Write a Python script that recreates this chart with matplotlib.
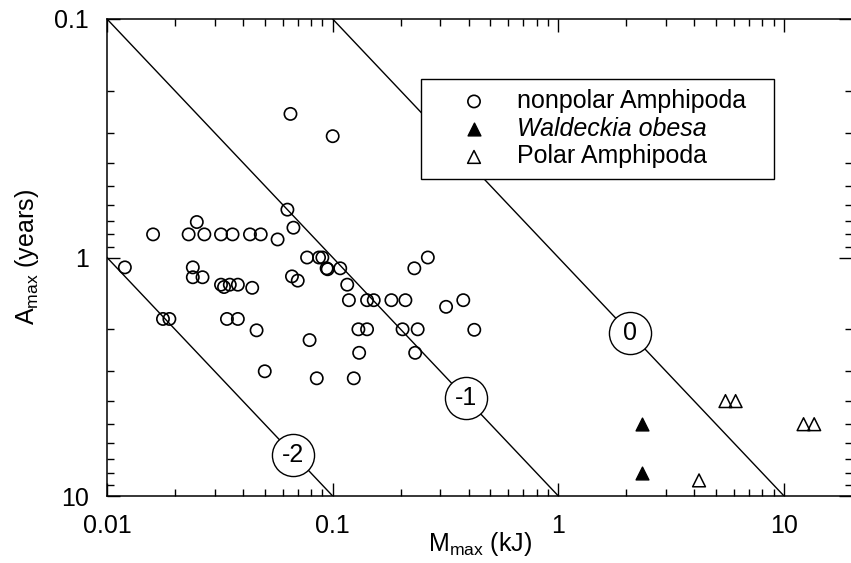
import numpy as np
import matplotlib
matplotlib.use("Agg")
import matplotlib.pyplot as plt
from matplotlib import ticker

# ---------------------------------------------
# DATA
# ---------------------------------------------

# nonpolar Amphipoda: max body energy (kJ) vs max age (years)
nonpolar_mass = [0.063, 0.025, 0.016, 0.023, 0.027, 0.032, 0.036, 0.043, 0.048,
                 0.057, 0.067, 0.012, 0.024, 0.024, 0.0265, 0.032, 0.033, 0.035,
                 0.038, 0.044, 0.066, 0.070, 0.0177, 0.0189, 0.034, 0.038, 0.046,
                 0.050, 0.065, 0.100, 0.077, 0.087, 0.090, 0.094, 0.095, 0.108,
                 0.116, 0.118, 0.142, 0.152, 0.182, 0.210, 0.230, 0.264, 0.318,
                 0.379, 0.424, 0.130, 0.142, 0.204, 0.238, 0.079, 0.131, 0.232,
                 0.085, 0.124]
nonpolar_age = [0.63, 0.71, 0.80, 0.80, 0.80, 0.80, 0.80, 0.80, 0.80,
                0.84, 0.75, 1.10, 1.10, 1.21, 1.21, 1.30, 1.33, 1.30,
                1.30, 1.34, 1.20, 1.25, 1.81, 1.81, 1.81, 1.81, 2.02,
                3.00, 0.25, 0.31, 1.00, 1.00, 1.00, 1.11, 1.12, 1.11,
                1.30, 1.51, 1.51, 1.51, 1.51, 1.51, 1.11, 1.00, 1.61,
                1.51, 2.01, 2.00, 2.00, 2.00, 2.00, 2.22, 2.51, 2.51,
                3.21, 3.21]

# Waldeckia obesa
waldeckia_mass = [2.34, 2.34]
waldeckia_age = [5.0, 8.0]

# Polar Amphipoda
polar_mass = [5.5, 6.1, 12.2, 13.6, 4.2]
polar_age = [4.0, 4.0, 5.0, 5.0, 8.6]

# reference lines, A = M * 10**(-k)
line_labels = [-2, -1, 0]

x_ticks = [0.01, 0.1, 1, 10]
x_tick_labels = ["0.01", "0.1", "1", "10"]
y_ticks = [0.1, 1, 10]
y_tick_labels = ["0.1", "1", "10"]

# ---------------------------------------------
# PLOT
# ---------------------------------------------

plt.rcParams["font.family"] = "Liberation Sans"
plt.rcParams["mathtext.fontset"] = "custom"
plt.rcParams["mathtext.rm"] = "Liberation Sans"
plt.rcParams["mathtext.default"] = "regular"

FS = 18

fig = plt.figure(figsize=(8.51, 5.63), dpi=100)
ax = fig.add_axes([107 / 851, 67 / 563, 745 / 851, 477 / 563])
ax.set_xscale("log")
ax.set_yscale("log")
ax.set_xlim(0.01, 20)
ax.set_ylim(10, 0.1)  # inverted: 0.1 at the top

# diagonal reference lines
m_line = np.array([0.001, 100.0])
for k in line_labels:
    ax.plot(m_line, m_line * 10.0 ** (-k), color="black", lw=1.0, zorder=2)

# circled labels sitting on the lines
label_mass = {-2: 0.067, -1: 0.39, 0: 2.08}
for k in line_labels:
    m = label_mass[k]
    a = m * 10.0 ** (-k)
    ax.scatter([m], [a], s=920, facecolor="white", edgecolor="black",
               linewidths=1.0, zorder=4)
    ax.text(m, a, str(k), ha="center", va="center", fontsize=FS, zorder=5)

# data points
ax.scatter(nonpolar_mass, nonpolar_age, s=78, facecolors="none",
           edgecolors="black", linewidths=1.2, zorder=3,
           label="nonpolar Amphipoda")
ax.scatter(waldeckia_mass, waldeckia_age, s=85, marker="^", color="black",
           zorder=3, label="Waldeckia obesa")
ax.scatter(polar_mass, polar_age, s=85, marker="^", facecolors="none",
           edgecolors="black", linewidths=1.1, zorder=3,
           label="Polar Amphipoda")

# ticks
ax.set_xticks(x_ticks, labels=x_tick_labels)
ax.set_yticks(y_ticks, labels=y_tick_labels)
ax.xaxis.set_minor_locator(ticker.LogLocator(base=10, subs=np.arange(2, 10), numticks=20))
ax.yaxis.set_minor_locator(ticker.LogLocator(base=10, subs=np.arange(2, 10), numticks=20))
ax.xaxis.set_minor_formatter(ticker.NullFormatter())
ax.yaxis.set_minor_formatter(ticker.NullFormatter())
ax.tick_params(which="both", direction="in", top=True, right=True,
               width=1.0, labelsize=FS, colors="black")
ax.tick_params(which="major", length=9.5, pad=13)
ax.tick_params(which="minor", length=5)
for s in ax.spines.values():
    s.set_linewidth(1.1)

# axis labels
ax.set_xlabel(r"M$_{max}$ (kJ)", fontsize=FS)
ax.set_ylabel(r"A$_{max}$ (years)", fontsize=FS)
ax.xaxis.set_label_coords(0.5, -0.072)
ax.yaxis.set_label_coords(-0.088, 0.5)

# legend
leg = ax.legend(loc="upper left",
                bbox_to_anchor=(421 / 851, 1 - 79 / 563, (774 - 421) / 851, 0.0),
                bbox_transform=fig.transFigure, mode="expand", borderaxespad=0,
                fancybox=False, framealpha=1, edgecolor="black", fontsize=FS,
                handlelength=3.44, handletextpad=0.0, borderpad=0.4,
                labelspacing=0.15, scatterpoints=1)
leg.get_frame().set_linewidth(1.0)
leg.get_texts()[1].set_fontstyle("italic")

fig.savefig("out.png", dpi=100)
